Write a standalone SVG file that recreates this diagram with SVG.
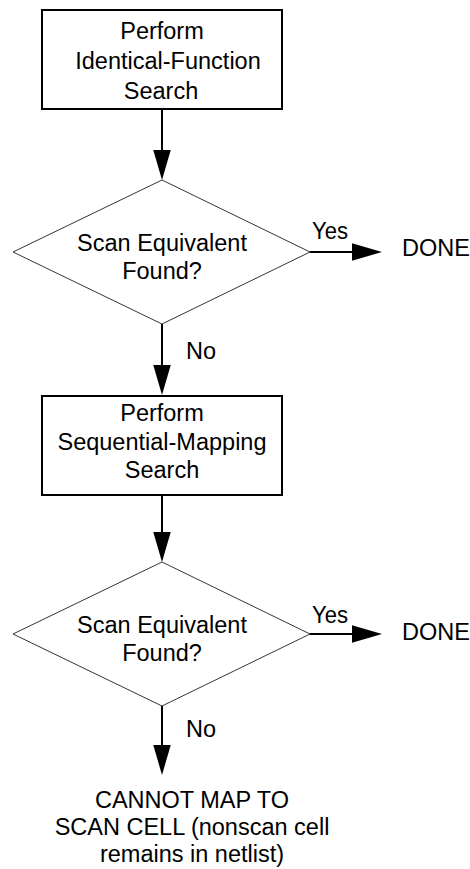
<svg xmlns="http://www.w3.org/2000/svg" width="470" height="869" viewBox="0 0 470 869">
<style>
  text { font-family: "Liberation Sans", Arial, Helvetica, sans-serif; font-size: 23.5px; fill: #000; }
  .c { text-anchor: middle; }
  .box { fill: #fff; stroke: #000; stroke-width: 2; }
  .dia { fill: #fff; stroke: #000; stroke-width: 0.8; }
  .conn { stroke: #000; stroke-width: 2; fill: none; }
</style>
<defs>
  <marker id="ah" markerUnits="userSpaceOnUse" markerWidth="31" markerHeight="18" refX="25" refY="8.75" orient="auto">
    <path d="M0,0 L30,8.75 L0,17.5 Z" fill="#000"/>
  </marker>
</defs>
<rect width="470" height="869" fill="#fff"/>
<g id="connectors">
  <line class="conn" x1="162" y1="109" x2="162" y2="175" marker-end="url(#ah)"/>
  <line class="conn" x1="162" y1="324" x2="162" y2="390" marker-end="url(#ah)"/>
  <line class="conn" x1="162" y1="495" x2="162" y2="557" marker-end="url(#ah)"/>
  <line class="conn" x1="162" y1="706" x2="162" y2="770" marker-end="url(#ah)"/>
  <line class="conn" x1="310" y1="252" x2="377" y2="252" marker-end="url(#ah)"/>
  <line class="conn" x1="310" y1="634" x2="377" y2="634" marker-end="url(#ah)"/>
  <text x="312" y="239" textLength="36" lengthAdjust="spacingAndGlyphs">Yes</text>
  <text x="312" y="623" textLength="36" lengthAdjust="spacingAndGlyphs">Yes</text>
  <text x="186" y="359">No</text>
  <text x="186" y="737">No</text>
</g>
<g id="search1">
  <rect class="box" x="42" y="10" width="240" height="99"/>
  <text class="c" x="162" y="39">Perform</text>
  <text class="c" x="168" y="69">Identical-Function</text>
  <text class="c" x="161" y="99">Search</text>
</g>
<g id="decision1">
  <polygon class="dia" points="162,180 310,252 162,324 13,252"/>
  <text class="c" x="162" y="251">Scan Equivalent</text>
  <text class="c" x="162" y="279">Found?</text>
</g>
<g id="done1">
  <text x="402" y="256">DONE</text>
</g>
<g id="search2">
  <rect class="box" x="42" y="396" width="240" height="99"/>
  <text class="c" x="162" y="421">Perform</text>
  <text class="c" x="162" y="450">Sequential-Mapping</text>
  <text class="c" x="162" y="478">Search</text>
</g>
<g id="decision2">
  <polygon class="dia" points="162,562 310,634 162,706 13,634"/>
  <text class="c" x="162" y="633">Scan Equivalent</text>
  <text class="c" x="162" y="661">Found?</text>
</g>
<g id="done2">
  <text x="402" y="640">DONE</text>
</g>
<g id="cannotmap">
  <text class="c" x="192" y="808">CANNOT MAP TO</text>
  <text class="c" x="192" y="835">SCAN CELL (nonscan cell</text>
  <text class="c" x="192" y="862">remains in netlist)</text>
</g>
</svg>
